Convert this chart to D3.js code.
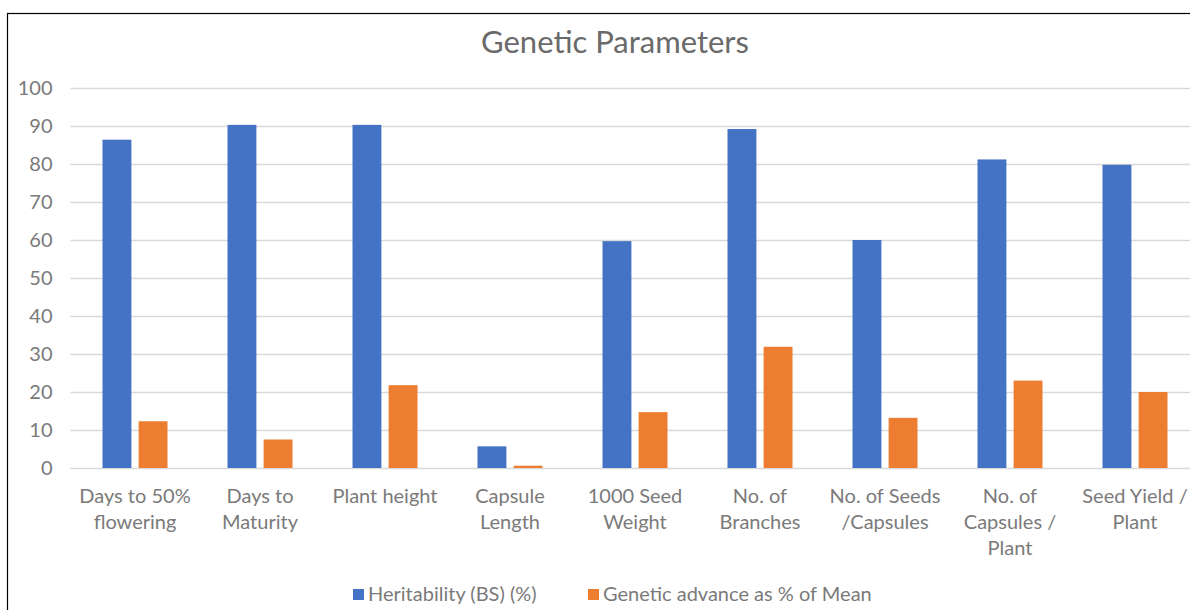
<!DOCTYPE html>
<html>
<head>
<meta charset="utf-8">
<script src="https://cdn.jsdelivr.net/npm/d3@7"></script>
<style>
  html, body { margin: 0; padding: 0; background: #ffffff; }
  svg { display: block; }
  text { font-family: Lato, "Open Sans", sans-serif; }
</style>
</head>
<body>
<svg id="chart" width="1190" height="610"></svg>
<script>
// ---- data ----
const title = "Genetic Parameters";
const categories = [
  "Days to 50%\nflowering",
  "Days to\nMaturity",
  "Plant height",
  "Capsule\nLength",
  "1000 Seed\nWeight",
  "No. of\nBranches",
  "No. of Seeds\n/Capsules",
  "No. of\nCapsules /\nPlant",
  "Seed Yield /\nPlant"
];
const seriesNames = ["Heritability (BS) (%)", "Genetic advance as % of Mean"];
const heritability = [86.4, 90.3, 90.3, 5.7, 59.7, 89.2, 60.0, 81.2, 79.8];
const geneticAdvance = [12.3, 7.5, 21.8, 0.6, 14.7, 31.9, 13.2, 23.0, 20.0];
const yTicks = [0, 10, 20, 30, 40, 50, 60, 70, 80, 90, 100];
const colors = ["#4472C4", "#ED7D31"];

// ---- layout ----
const svg = d3.select("#chart");
const plot = { left: 72.5, right: 1197.5, top: 88, bottom: 468 };
const textColor = "#7a7a7a";

// chart border
svg.append("rect")
  .attr("x", 7.5).attr("y", 13.5)
  .attr("width", 1220).attr("height", 640)
  .attr("fill", "#ffffff")
  .attr("stroke", "#000000").attr("stroke-width", 1.2);

const x0 = d3.scaleBand()
  .domain(categories)
  .range([plot.left, plot.right])
  .paddingInner(0.48)
  .paddingOuter(0.24);

const x1 = d3.scaleBand()
  .domain(seriesNames)
  .range([0, x0.bandwidth()])
  .paddingInner(0.2);

const y = d3.scaleLinear().domain([0, 100]).range([plot.bottom, plot.top]);

// y axis with gridlines
const yAxis = svg.append("g")
  .attr("transform", `translate(${plot.left},0)`)
  .call(d3.axisLeft(y).tickValues(yTicks).tickSize(-(plot.right - plot.left)).tickPadding(20));
yAxis.select(".domain").remove();
yAxis.selectAll(".tick line").attr("stroke", "#d9d9d9").attr("stroke-width", 1.5).attr("x1", -2);
yAxis.selectAll(".tick text")
  .attr("fill", textColor)
  .style("font-size", "20px");

// bars
const rows = categories.map((c, i) => ({ cat: c, vals: [heritability[i], geneticAdvance[i]] }));
const groups = svg.append("g").selectAll("g")
  .data(rows).join("g")
  .attr("transform", d => `translate(${x0(d.cat)},0)`);
groups.selectAll("rect")
  .data(d => d.vals.map((v, j) => ({ name: seriesNames[j], v, j })))
  .join("rect")
  .attr("x", d => x1(d.name))
  .attr("width", x1.bandwidth())
  .attr("y", d => y(d.v))
  .attr("height", d => y(0) - y(d.v))
  .attr("fill", d => colors[d.j]);

// x axis
const xAxis = svg.append("g")
  .attr("transform", `translate(0,${plot.bottom})`)
  .call(d3.axisBottom(x0).tickSize(0).tickPadding(0).tickFormat(""));
xAxis.select(".domain").remove();
xAxis.selectAll(".tick").each(function(d) {
  const lines = d.split("\n");
  const t = d3.select(this).append("text")
    .attr("fill", textColor)
    .attr("text-anchor", "middle")
    .style("font-size", "20px");
  lines.forEach((ln, k) => {
    t.append("tspan").attr("x", 0).attr("y", 35 + k * 26).text(ln);
  });
});

// title
svg.append("text")
  .attr("x", 615).attr("y", 53)
  .attr("text-anchor", "middle")
  .attr("fill", "#6a6a6a")
  .style("font-size", "31px")
  .text(title);

// legend
const legendX = [353, 588];
const legend = svg.append("g").selectAll("g")
  .data(seriesNames).join("g")
  .attr("transform", (d, i) => `translate(${legendX[i]},589)`);
legend.append("rect")
  .attr("width", 11).attr("height", 11)
  .attr("fill", (d, i) => colors[i]);
legend.append("text")
  .attr("x", 15).attr("y", 12)
  .attr("fill", textColor)
  .style("font-size", "20px")
  .text(d => d);
</script>
</body>
</html>
